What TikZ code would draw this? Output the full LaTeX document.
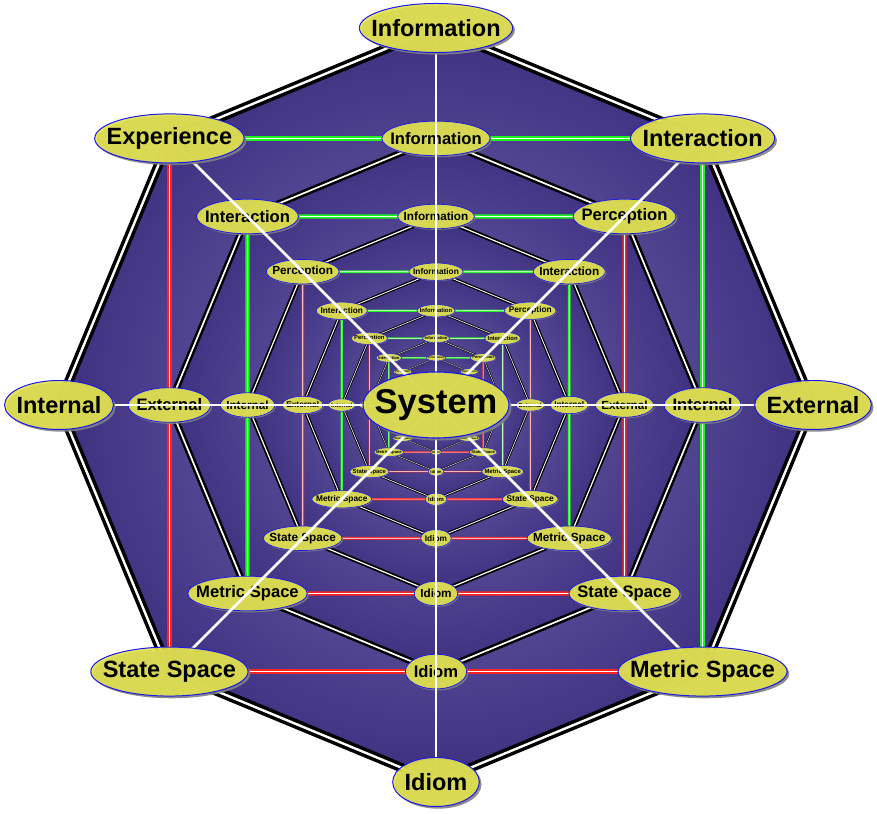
\documentclass[tikz,border=0pt]{standalone}
\usepackage{fontspec}
\setmainfont{Liberation Sans}
\usetikzlibrary{shapes.geometric,shadows}
\pgfdeclarelayer{bgfill}
\pgfdeclarelayer{octlines}
\pgfdeclarelayer{sqlines}
\pgfdeclarelayer{innernodes}
\pgfdeclarelayer{axes}
\pgfsetlayers{bgfill,octlines,sqlines,innernodes,axes,main}

\definecolor{nodefill}{RGB}{226,226,78}
\definecolor{nodeline}{RGB}{25,25,235}
\definecolor{ringin}{RGB}{118,108,178}
\definecolor{ringout}{RGB}{62,48,128}
\definecolor{sqgreen}{RGB}{30,245,30}
\definecolor{sqred}{RGB}{250,35,35}

\tikzset{
  blob/.style={ellipse, fill=nodefill, fill opacity=0.9, text opacity=1,
    draw=nodeline, draw opacity=1, inner sep=0pt, text=black},
  octline/.style={draw=black, double=white, line join=round},
  sqline/.style={double=white, line join=round},
  axisline/.style={draw=white, line width=2.6pt}
}

\newcommand\blob[5]{%
  \pgfmathsetmacro\fsz{23.5*#4}%
  \pgfinterruptpicture
    \setbox0=\hbox{\fontsize{\fsz pt}{\fsz pt}\selectfont\bfseries #5}%
    \xdef\blobtw{\the\wd0}%
  \endpgfinterruptpicture
  \pgfmathsetmacro\ew{max(\blobtw,35*#4)+24*#4}%
  \pgfmathsetmacro\eh{49*#4}%
  \pgfmathsetmacro\bw{0.35+0.65*#4}%
  \pgfmathsetmacro\sx{2.2*#4}%
  \node[blob, minimum width=\ew pt, minimum height=\eh pt, line width=\bw pt,
    drop shadow={shadow xshift=\sx pt, shadow yshift=-\sx pt, fill=gray, opacity=0.9}]
    (#1) at ([shift={(436,408)}]#2:#3)
    {\makebox[0pt]{\fontsize{\fsz pt}{\fsz pt}\selectfont\bfseries #5}};%
}

\newcommand\ringlayer[9]{%
  \pgfmathsetmacro\lsc{0.70711^(#1-1)}%
  \pgfmathsetmacro\lrad{377*\lsc}%
  \blob{n#1-0}{90}{\lrad}{\lsc}{#2}%
  \blob{n#1-1}{45}{\lrad}{\lsc}{#3}%
  \blob{n#1-2}{0}{\lrad}{\lsc}{#4}%
  \blob{n#1-3}{-45}{\lrad}{\lsc}{#5}%
  \blob{n#1-4}{-90}{\lrad}{\lsc}{#6}%
  \blob{n#1-5}{-135}{\lrad}{\lsc}{#7}%
  \blob{n#1-6}{180}{\lrad}{\lsc}{#8}%
  \blob{n#1-7}{135}{\lrad}{\lsc}{#9}%
}

\begin{document}
\begin{tikzpicture}[x=1pt,y=1pt]
\useasboundingbox (0,0) rectangle (877,813);

% outer ring nodes (on top)
\ringlayer{1}{Information}{Interaction}{External}{Metric Space}{Idiom}{State Space}{Internal}{Experience}

% inner ring nodes
\begin{pgfonlayer}{innernodes}
\ringlayer{2}{Information}{Perception}{Internal}{State Space}{Idiom}{Metric Space}{External}{Interaction}
\ringlayer{3}{Information}{Interaction}{External}{Metric Space}{Idiom}{State Space}{Internal}{Perception}
\ringlayer{4}{Information}{Perception}{Internal}{State Space}{Idiom}{Metric Space}{External}{Interaction}
\ringlayer{5}{Information}{Interaction}{External}{Metric Space}{Idiom}{State Space}{Internal}{Perception}
\ringlayer{6}{Information}{Perception}{Internal}{State Space}{Idiom}{Metric Space}{External}{Interaction}
\ringlayer{7}{Information}{Interaction}{}{Metric Space}{Idiom}{State Space}{}{Perception}
\end{pgfonlayer}

% centre node
\node[blob, minimum width=146pt, minimum height=66pt, line width=1.1pt,
  drop shadow={shadow xshift=2.5pt, shadow yshift=-2.5pt, fill=gray, opacity=0.9}]
  (sys) at (436,408) {\makebox[0pt]{\fontsize{34.5pt}{34.5pt}\selectfont\bfseries System}};

% background fills
\begin{pgfonlayer}{bgfill}
\fill[white] (0,0) rectangle (877,813);
\foreach \k in {1,...,7}{
  \shade[inner color=ringin, outer color=ringout]
    (n\k-0.center) -- (n\k-1.center) -- (n\k-2.center) -- (n\k-3.center) --
    (n\k-4.center) -- (n\k-5.center) -- (n\k-6.center) -- (n\k-7.center) -- cycle;
}
\end{pgfonlayer}

% octagon edges
\begin{pgfonlayer}{octlines}
\foreach \k in {1,...,7}{
  \pgfmathsetmacro\s{0.70711^(\k-1)}
  \draw[octline, line width=3.5*\s, double distance=2.4*\s]
    (n\k-0.center) -- (n\k-1.center) -- (n\k-2.center) -- (n\k-3.center) --
    (n\k-4.center) -- (n\k-5.center) -- (n\k-6.center) -- (n\k-7.center) -- cycle;
}
\end{pgfonlayer}

% squares
\begin{pgfonlayer}{sqlines}
\foreach \k in {1,...,6}{
  \pgfmathsetmacro\s{0.70711^(\k-1)}
  \pgfmathsetmacro\sw{max(0.6,2.2*\s)}
  \pgfmathsetmacro\sd{max(0.5,1.3*\s)}
  \pgfmathtruncatemacro\kn{\k+1}
  \ifodd\k \def\colR{sqgreen}\def\colL{sqred}\else \def\colR{sqred}\def\colL{sqgreen}\fi
  \draw[sqline, draw=sqgreen, line width=\sw, double distance=\sd]
    (n\k-7.center) -- (n\kn-0.center) -- (n\k-1.center);
  \draw[sqline, draw=\colR, line width=\sw, double distance=\sd]
    (n\k-1.center) -- (n\kn-2.center) -- (n\k-3.center);
  \draw[sqline, draw=sqred, line width=\sw, double distance=\sd]
    (n\k-3.center) -- (n\kn-4.center) -- (n\k-5.center);
  \draw[sqline, draw=\colL, line width=\sw, double distance=\sd]
    (n\k-5.center) -- (n\kn-6.center) -- (n\k-7.center);
}
\end{pgfonlayer}

% white axes and diagonals
\begin{pgfonlayer}{axes}
\draw[axisline] (n1-0.center) -- (n1-4.center);
\draw[axisline] (n1-6.center) -- (n1-2.center);
\draw[axisline] (n1-7.center) -- (n1-3.center);
\draw[axisline] (n1-1.center) -- (n1-5.center);
\end{pgfonlayer}
\end{tikzpicture}
\end{document}
